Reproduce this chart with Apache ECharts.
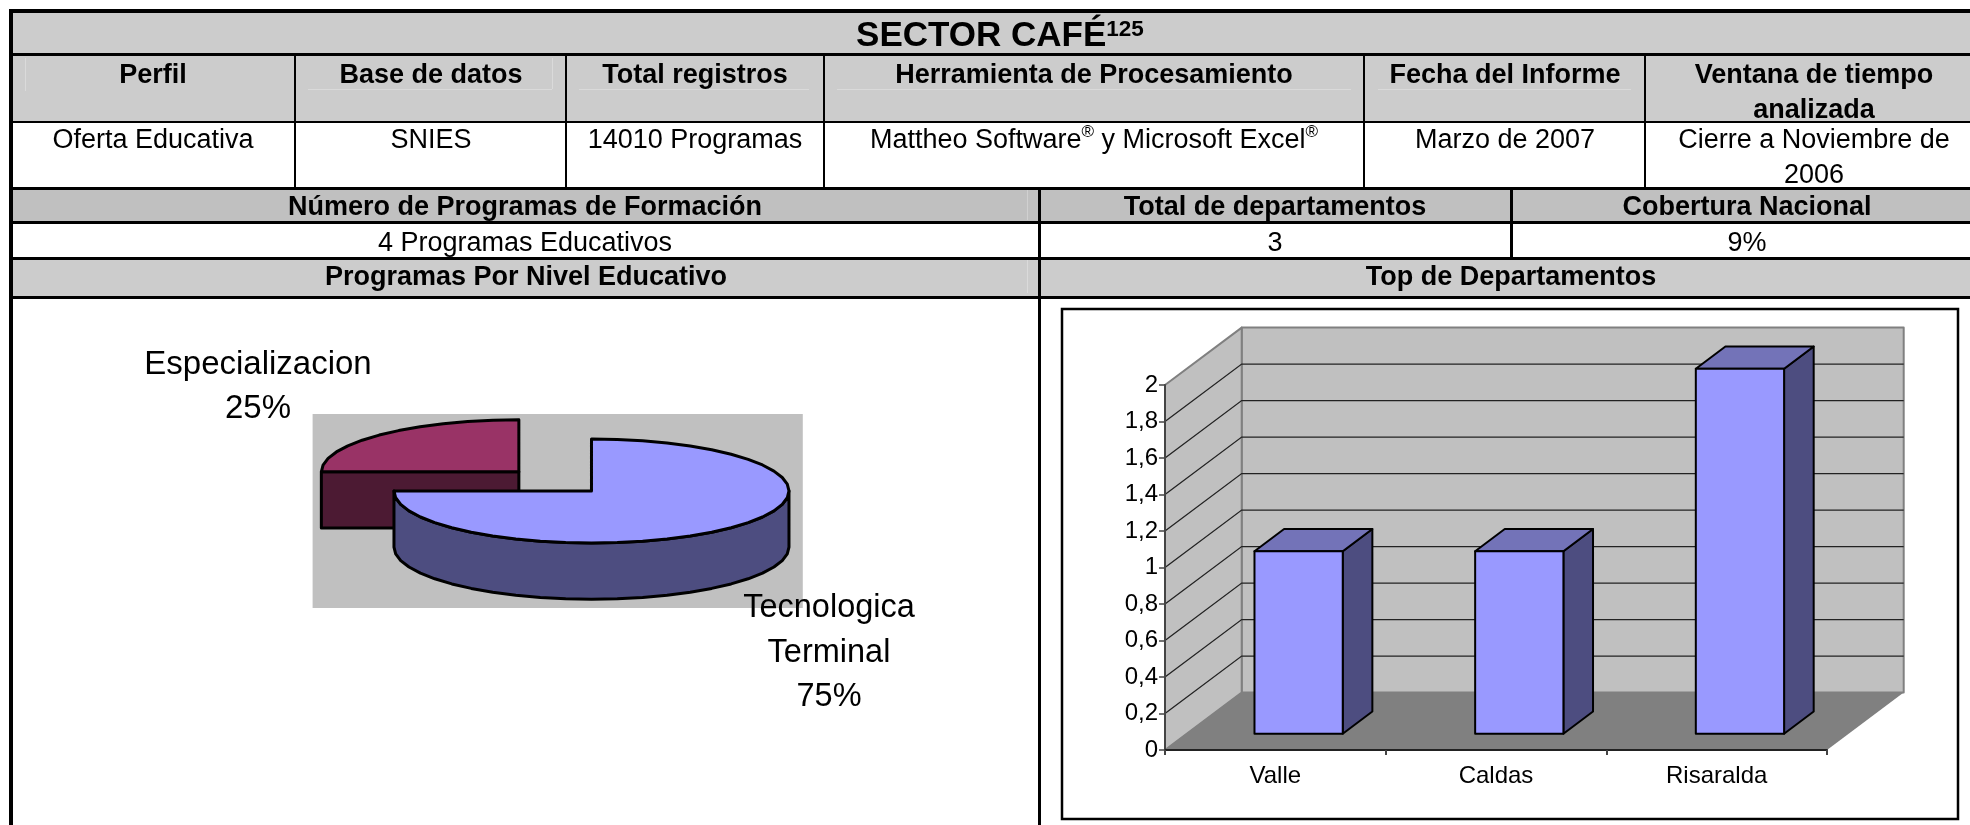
<!doctype html>
<html>
<head>
<meta charset="UTF-8">
<title>Sector Café</title>
<style>
html,body{margin:0;padding:0;background:#fff;}
#main{width:1970px;height:825px;}
</style>
</head>
<body>
<div id="main"></div>
<script src="https://cdn.jsdelivr.net/npm/echarts@6/dist/echarts.min.js"></script>
<script>
// datos
var titulo = 'SECTOR CAFÉ{s|125}';
var encabezados = ['Perfil', 'Base de datos', 'Total registros', 'Herramienta de Procesamiento', 'Fecha del Informe', 'Ventana de tiempo\nanalizada'];
var fila = ['Oferta Educativa', 'SNIES', '14010 Programas', 'Mattheo Software{r|®} y Microsoft Excel{r|®}', 'Marzo de 2007', 'Cierre a Noviembre de\n2006'];
var encabezados2 = ['Número de Programas de Formación', 'Total de departamentos', 'Cobertura Nacional'];
var fila2 = ['4 Programas Educativos', '3', '9%'];
var encabezados3 = ['Programas Por Nivel Educativo', 'Top de Departamentos'];

var pieNames = ['Especializacion', 'Tecnologica\nTerminal'];
var pieValues = [25, 75];

var departamentos = ['Valle', 'Caldas', 'Risaralda'];
var programas = [1, 1, 2];
var yTicks = [0.2, 0.4, 0.6, 0.8, 1, 1.2, 1.4, 1.6, 1.8];

// estilos
var FONT = '"Liberation Sans", Arial, sans-serif';
var dx = 76.7, dy = 57.4;          // profundidad del grafico 3d
var barFront = 0.284, barBack = 0.67, barNudge = 1.5;
var pieColors = [['#993366', '#4c1a33'], ['#9999ff', '#4d4d80']];
var pieLabelPos = [[258, 387], [829, 653]];
var pieDepth = 1.08, pieExplode = 0.52;

function txt(s, x, y, bold, size) {
	return {
		type: 'text', x: x, y: y, silent: true,
		style: {
			text: s, x: 0, y: 0, align: 'center', verticalAlign: 'middle',
			fontFamily: FONT, fontSize: size || 27, fontWeight: bold ? 'bold' : 'normal',
			fill: '#000', lineHeight: 34.5,
			rich: {
				s: {fontFamily: FONT, fontSize: 22.5, fontWeight: 'bold', verticalAlign: 'top', lineHeight: 30},
				r: {fontFamily: FONT, fontSize: 17, verticalAlign: 'top', lineHeight: 27}
			}
		}
	};
}
function rect(x, y, w, h, c) {
	return {type: 'rect', silent: true, shape: {x: x, y: y, width: w, height: h}, style: {fill: c}};
}

var els = [];
// fondos
els.push(rect(13, 13, 1957, 40, '#cccccc'));
els.push(rect(13, 56, 1957, 65, '#cccccc'));
els.push(rect(13, 189, 1957, 32, '#c0c0c0'));
els.push(rect(13, 259, 1957, 37, '#cccccc'));
// restos claros del documento original
var faint = '#dadada';
els.push(rect(308, 89, 244, 1, faint));
els.push(rect(579, 89, 230, 1, faint));
els.push(rect(837, 89, 514, 1, faint));
els.push(rect(1378, 89, 253, 1, faint));
els.push(rect(25, 58, 1, 33, faint));
els.push(rect(552, 58, 1, 31, faint));
els.push(rect(1027, 190, 1, 30, '#d0d0d0'));
els.push(rect(1027, 260, 1, 33, '#dadada'));
// lineas
els.push(rect(9, 9, 1961, 4, '#000'));
els.push(rect(9, 9, 4, 816, '#000'));
els.push(rect(9, 53, 1961, 3, '#000'));
els.push(rect(9, 121, 1961, 2, '#000'));
els.push(rect(9, 187, 1961, 3, '#000'));
els.push(rect(9, 221, 1961, 3, '#000'));
els.push(rect(9, 257, 1961, 3, '#000'));
els.push(rect(9, 296, 1961, 3, '#000'));
[295, 566, 824, 1364, 1645].forEach(function (x) { els.push(rect(x - 1, 56, 2, 134, '#000')); });
els.push(rect(1038, 189, 3, 636, '#000'));
els.push(rect(1510, 189, 3, 70, '#000'));
// caja del grafico
els.push({type: 'rect', silent: true, shape: {x: 1062, y: 309, width: 896, height: 510}, style: {fill: 'none', stroke: '#000', lineWidth: 2.5}});

// textos
els.push(txt(titulo, 1000, 36, true, 35));
var cx = [153, 431, 695, 1094, 1505, 1814];
encabezados.forEach(function (s, i) { els.push(txt(s, cx[i], s.indexOf('\n') > 0 ? 93 : 76, true)); });
fila.forEach(function (s, i) { els.push(txt(s, cx[i], s.indexOf('\n') > 0 ? 158 : 141, false)); });
var cx2 = [525, 1275, 1747];
encabezados2.forEach(function (s, i) { els.push(txt(s, cx2[i], 208, true)); });
fila2.forEach(function (s, i) { els.push(txt(s, cx2[i], 244, false)); });
els.push(txt(encabezados3[0], 526, 278, true));
els.push(txt(encabezados3[1], 1511, 278, true));

function poly(pts, fill, stroke, lw) {
	return {type: 'polygon', shape: {points: pts}, style: {fill: fill, stroke: stroke || 'none', lineWidth: lw || 0, lineJoin: 'round'}};
}

// fondo 3d: paredes y piso
function renderWalls(params, api) {
	var r = params.coordSys;
	var x0 = r.x, x1 = r.x + r.width;
	var y0 = api.coord([0, 0])[1], yT = api.coord([0, 2])[1];
	var edge = '#808080';
	return {type: 'group', children: [
		poly([[x0 + dx, yT - dy], [x1 + dx, yT - dy], [x1 + dx, y0 - dy], [x0 + dx, y0 - dy]], '#c0c0c0', edge, 2),
		poly([[x0, yT], [x0 + dx, yT - dy], [x0 + dx, y0 - dy], [x0, y0]], '#c0c0c0', edge, 2),
		poly([[x0, y0], [x0 + dx, y0 - dy], [x1 + dx, y0 - dy], [x1, y0]], '#808080')
	]};
}
function renderGrid(params, api) {
	var r = params.coordSys;
	var y = api.coord([0, api.value(1)])[1];
	return {type: 'polyline', shape: {points: [[r.x, y], [r.x + dx, y - dy], [r.x + r.width + dx, y - dy]]},
		style: {fill: 'none', stroke: '#222', lineWidth: 1.3}};
}
function renderBar(params, api) {
	var c = api.coord([api.value(0), 0]);
	var t = api.coord([api.value(0), api.value(1)]);
	var w = api.size([1, 0])[0] * 0.4;
	var x0 = c[0] - w / 2 + dx * barFront + barNudge, x1 = x0 + w;
	var yb = c[1] - dy * barFront, yt = t[1] - dy * barFront;
	var ox = dx * (barBack - barFront), oy = dy * (barBack - barFront);
	var s = {stroke: '#000', lw: 2};
	return {type: 'group', children: [
		poly([[x1, yt], [x1 + ox, yt - oy], [x1 + ox, yb - oy], [x1, yb]], '#4d4d80', s.stroke, s.lw),
		poly([[x0, yt], [x0 + ox, yt - oy], [x1 + ox, yt - oy], [x1, yt]], '#7373b8', s.stroke, s.lw),
		poly([[x0, yt], [x1, yt], [x1, yb], [x0, yb]], '#9999ff', s.stroke, s.lw)
	]};
}

// torta 3d sobre un eje donde el circulo unidad es la elipse
var total = pieValues.reduce(function (a, b) { return a + b; }, 0);
function renderPie(params, api) {
	var i = params.dataIndex;
	var before = 0;
	for (var k = 0; k < i; k++) before += pieValues[k];
	var a0 = (-90 + before / total * 360) * Math.PI / 180;
	var a1 = a0 + pieValues[i] / total * 2 * Math.PI;
	var mid = (a0 + a1) / 2;
	var off = i === 0 ? pieExplode : 0;
	var ox = Math.sin(mid) * off, oy = Math.cos(mid) * off;
	function P(a, z) { return api.coord([ox + Math.sin(a), oy + Math.cos(a) - z]); }
	function C(z) { return api.coord([ox, oy - z]); }
	var step = 7.5 * Math.PI / 180, n = Math.round((a1 - a0) / step), m, a;
	var top = [C(0)];
	for (m = 0; m <= n; m++) top.push(P(a0 + (a1 - a0) * m / n, 0));
	var kids = [];
	var col = pieColors[i];
	// pared curva, solo la mitad de adelante
	var s0 = Math.max(a0, Math.PI / 2), s1 = Math.min(a1, 3 * Math.PI / 2);
	if (s1 > s0) {
		var up = [], dn = [];
		var ns = Math.round((s1 - s0) / step);
		for (m = 0; m <= ns; m++) {
			a = s0 + (s1 - s0) * m / ns;
			up.push(P(a, 0));
			dn.unshift(P(a, pieDepth));
		}
		kids.push(poly(up.concat(dn), col[1], '#000', 3));
	}
	// pared recta que mira hacia adelante
	if (Math.cos(a0 - Math.PI / 2) < -0.01) {
		kids.push(poly([C(0), P(a0, 0), P(a0, pieDepth), C(pieDepth)], col[1], '#000', 3));
	}
	kids.push(poly(top, col[0], '#000', 3));
	var pct = Math.round(pieValues[i] / total * 100) + '%';
	kids.push({type: 'text', x: pieLabelPos[i][0], y: pieLabelPos[i][1], z2: 50, style: {
		text: pieNames[i] + '\n' + pct, align: 'center', verticalAlign: 'middle',
		fontFamily: FONT, fontSize: i === 0 ? 33 : 32.5, fill: '#000', lineHeight: 44.5
	}});
	return {type: 'group', children: kids};
}

var myChart = echarts.init(document.getElementById('main'), null, {renderer: 'canvas'});
var option = {
	animation: false,
	backgroundColor: '#fff',
	textStyle: {fontFamily: FONT},
	graphic: {elements: els},
	grid: [
		{left: 1165, top: 385, width: 662, height: 365},
		{show: true, left: 312.6, top: 414, width: 490.2, height: 194, backgroundColor: '#c0c0c0', borderWidth: 0}
	],
	xAxis: [
		{
			type: 'category', gridIndex: 0, data: departamentos, z: 5,
			axisLine: {show: true, lineStyle: {color: '#222', width: 2}},
			axisTick: {show: true, length: 5, lineStyle: {color: '#444', width: 2}},
			axisLabel: {color: '#000', fontSize: 24, fontFamily: FONT, margin: 14},
			splitLine: {show: false}
		},
		{type: 'value', gridIndex: 1, min: -1.412, max: 1.07, show: false}
	],
	yAxis: [
		{
			type: 'value', gridIndex: 0, min: 0, max: 2, interval: 0.2, z: 5,
			axisLine: {show: true, lineStyle: {color: '#444', width: 2}},
			axisTick: {show: true, length: 6, lineStyle: {color: '#444', width: 1.5}},
			axisLabel: {color: '#000', fontSize: 24, fontFamily: FONT, margin: 7,
				formatter: function (v) { return String(v).replace('.', ','); }},
			splitLine: {show: false}
		},
		{type: 'value', gridIndex: 1, min: -2.25, max: 1.48, show: false}
	],
	series: [
		{type: 'custom', z: 2, xAxisIndex: 0, yAxisIndex: 0, renderItem: renderWalls, data: [[0, 0]], silent: true},
		{type: 'custom', z: 3, xAxisIndex: 0, yAxisIndex: 0, renderItem: renderGrid,
			data: yTicks.map(function (v) { return [0, v]; }), silent: true},
		{type: 'custom', z: 4, xAxisIndex: 0, yAxisIndex: 0, renderItem: renderBar,
			data: programas.map(function (v, i) { return [i, v]; }), silent: true},
		{type: 'custom', z: 4, xAxisIndex: 1, yAxisIndex: 1, renderItem: renderPie,
			data: pieValues.map(function (v, i) { return [i, v]; }), silent: true, clip: false}
	]
};
myChart.setOption(option);
</script>
</body>
</html>
